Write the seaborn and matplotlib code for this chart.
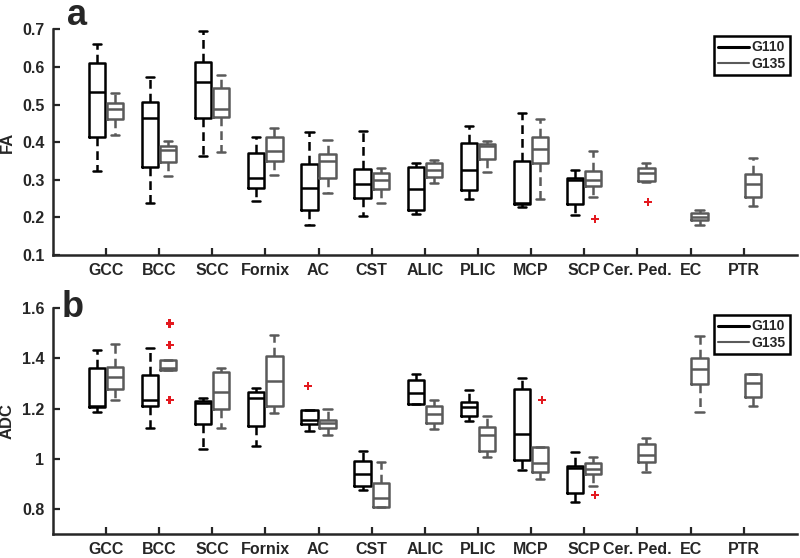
import matplotlib
matplotlib.use("Agg")
import matplotlib.pyplot as plt
from matplotlib.lines import Line2D
import pandas as pd
import seaborn as sns

# categories and groups
regions = ["GCC", "BCC", "SCC", "Fornix", "AC", "CST", "ALIC", "PLIC",
           "MCP", "SCP", "Cer. Ped.", "EC", "PTR"]
groups = ["G110", "G135"]

# box stats: (whisker low, q1, median, q3, whisker high)
fa_g110 = [
    (0.324, 0.415, 0.534, 0.611, 0.660),
    (0.239, 0.335, 0.463, 0.508, 0.572),
    (0.363, 0.465, 0.561, 0.613, 0.696),
    (0.243, 0.279, 0.304, 0.370, 0.413),
    (0.181, 0.219, 0.277, 0.341, 0.426),
    (0.204, 0.251, 0.290, 0.328, 0.429),
    (0.210, 0.219, 0.276, 0.335, 0.344),
    (0.249, 0.272, 0.326, 0.397, 0.443),
    (0.227, 0.235, 0.238, 0.350, 0.477),
    (0.206, 0.235, 0.299, 0.305, 0.326),
]
fa_g135 = [
    (0.420, 0.462, 0.488, 0.503, 0.531),
    (0.310, 0.348, 0.380, 0.391, 0.402),
    (0.374, 0.468, 0.489, 0.543, 0.578),
    (0.313, 0.349, 0.377, 0.414, 0.437),
    (0.265, 0.306, 0.349, 0.369, 0.407),
    (0.237, 0.276, 0.299, 0.319, 0.331),
    (0.291, 0.308, 0.326, 0.345, 0.352),
    (0.321, 0.354, 0.390, 0.396, 0.402),
    (0.248, 0.344, 0.382, 0.414, 0.461),
    (0.255, 0.283, 0.299, 0.323, 0.376),
    (0.295, 0.297, 0.319, 0.330, 0.344),
    (0.181, 0.193, 0.202, 0.211, 0.220),
    (0.230, 0.253, 0.290, 0.316, 0.357),
]
fa_outliers = [
    ("SCP", "G135", 0.197),
    ("Cer. Ped.", "G135", 0.241),
]

adc_g110 = [
    (1.185, 1.206, 1.211, 1.361, 1.434),
    (1.124, 1.209, 1.235, 1.335, 1.443),
    (1.040, 1.138, 1.222, 1.229, 1.244),
    (1.049, 1.132, 1.244, 1.267, 1.284),
    (1.112, 1.138, 1.156, 1.193, 1.193),
    (0.877, 0.893, 0.941, 0.992, 1.030),
    (1.218, 1.218, 1.264, 1.315, 1.339),
    (1.152, 1.169, 1.206, 1.225, 1.275),
    (0.957, 0.996, 1.097, 1.280, 1.321),
    (0.827, 0.864, 0.963, 0.972, 1.026),
]
adc_g135 = [
    (1.233, 1.278, 1.325, 1.365, 1.458),
    (1.352, 1.352, 1.360, 1.394, 1.394),
    (1.124, 1.198, 1.266, 1.345, 1.360),
    (1.182, 1.211, 1.311, 1.408, 1.494),
    (1.096, 1.122, 1.142, 1.156, 1.198),
    (0.807, 0.809, 0.844, 0.903, 0.987),
    (1.118, 1.142, 1.178, 1.209, 1.235),
    (1.007, 1.032, 1.096, 1.126, 1.169),
    (0.921, 0.947, 0.983, 1.047, 1.047),
    (0.893, 0.938, 0.959, 0.983, 1.007),
    (0.947, 0.988, 1.016, 1.060, 1.083),
    (1.185, 1.299, 1.359, 1.401, 1.491),
    (1.211, 1.246, 1.301, 1.337, 1.339),
]
adc_outliers = [
    ("BCC", "G135", 1.540),
    ("BCC", "G135", 1.454),
    ("BCC", "G135", 1.234),
    ("AC", "G110", 1.291),
    ("MCP", "G135", 1.235),
    ("SCP", "G135", 0.856),
]

fa_ticks = [0.1, 0.2, 0.3, 0.4, 0.5, 0.6, 0.7]
fa_tick_labels = ["0.1", "0.2", "0.3", "0.4", "0.5", "0.6", "0.7"]
adc_ticks = [0.8, 1.0, 1.2, 1.4, 1.6]
adc_tick_labels = ["0.8", "1", "1.2", "1.4", "1.6"]

palette = {"G110": "#000000", "G135": "#5a5a5a"}
outlier_color = "#e3191f"

sns.set_style("ticks")
plt.rcParams["font.family"] = ["Liberation Sans", "DejaVu Sans"]
plt.rcParams["font.weight"] = "bold"
plt.rcParams["axes.labelweight"] = "bold"


def box_rows(stats, group):
    # five summary values per box -> quartiles come out exactly
    rows = []
    for region, five in zip(regions, stats):
        for v in five:
            rows.append({"region": region, "group": group, "value": v})
    return rows


def draw_panel(ax, g110, g135, outliers, ylim, ticks, tick_labels, ylabel, letter, letter_pos):
    df = pd.DataFrame(box_rows(g110, "G110") + box_rows(g135, "G135"))
    sns.boxplot(data=df, x="region", y="value", hue="group", order=regions,
                hue_order=groups, palette=palette, fill=False, dodge=True,
                width=0.68, gap=0.1, whis=(0, 100), linewidth=1.8,
                whiskerprops={"linestyle": (0, (3.5, 2))}, legend=False, ax=ax)
    out_df = pd.DataFrame(outliers, columns=["region", "group", "value"])
    sns.stripplot(data=out_df, x="region", y="value", hue="group", order=regions,
                  hue_order=groups, palette={g: outlier_color for g in groups},
                  dodge=True, jitter=False, marker="P", size=6, linewidth=0,
                  legend=False, ax=ax)

    ax.set_xlim(-1, 13)
    ax.set_ylim(*ylim)
    ax.set_yticks(ticks, tick_labels)
    ax.set_xlabel("")
    ax.set_ylabel(ylabel, fontsize=12, fontweight="bold", labelpad=5)
    sns.despine(ax=ax)
    for side in ["left", "bottom"]:
        ax.spines[side].set_linewidth(1.8)
    ax.tick_params(direction="in", length=5, width=1.6, labelsize=11.5, pad=6)
    for lab in ax.get_xticklabels() + ax.get_yticklabels():
        lab.set_fontweight("bold")

    handles = [Line2D([], [], color=palette["G110"], lw=2.2),
               Line2D([], [], color=palette["G135"], lw=1.5)]
    leg = ax.legend(handles, groups, loc="upper right", frameon=True, fancybox=False,
                    edgecolor="black", framealpha=1, prop={"weight": "bold", "size": 10},
                    handlelength=2.2, handletextpad=0.2, borderpad=0.3,
                    labelspacing=0.2, borderaxespad=0.5)
    leg.get_frame().set_linewidth(1.8)

    ax.text(letter_pos[0], letter_pos[1], letter, transform=ax.transAxes,
            fontsize=26, fontweight="bold", ha="left", va="baseline")


fig, (ax_a, ax_b) = plt.subplots(2, 1, figsize=(8, 5.58), dpi=100)
ax_a.set_position([0.066, 0.543, 0.930, 0.4045])
ax_b.set_position([0.066, 0.043, 0.930, 0.4045])

draw_panel(ax_a, fa_g110, fa_g135, fa_outliers, (0.1, 0.7), fa_ticks, fa_tick_labels,
           "FA", "a", (0.019, 1.019))
draw_panel(ax_b, adc_g110, adc_g135, adc_outliers, (0.7, 1.6), adc_ticks, adc_tick_labels,
           "ADC", "b", (0.012, 0.961))

fig.savefig("out.png", dpi=100)
